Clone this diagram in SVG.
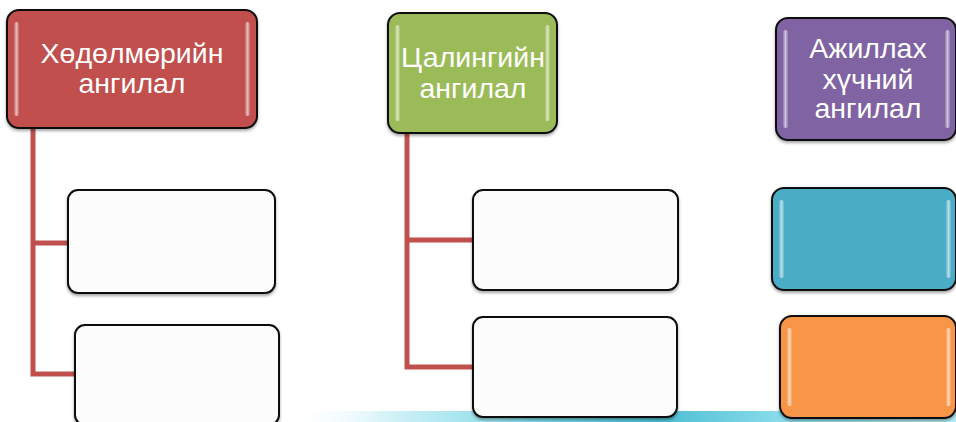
<svg xmlns="http://www.w3.org/2000/svg" width="956" height="422" viewBox="0 0 956 422">
<defs>
<linearGradient id="band" x1="0" y1="0" x2="1" y2="0">
<stop offset="0" stop-color="#ffffff" stop-opacity="0"/>
<stop offset="0.15" stop-color="#d2f2f7"/>
<stop offset="0.4" stop-color="#6fd4e3"/>
<stop offset="0.55" stop-color="#4cbed3"/>
<stop offset="0.75" stop-color="#8edeec"/>
<stop offset="1" stop-color="#b3e9f2"/>
</linearGradient>
<linearGradient id="hl" x1="0" y1="0" x2="1" y2="0">
<stop offset="0" stop-color="#ffffff" stop-opacity="0.15"/>
<stop offset="0.5" stop-color="#ffffff" stop-opacity="0.6"/>
<stop offset="1" stop-color="#ffffff" stop-opacity="0.15"/>
</linearGradient>
<filter id="sh" x="-10%" y="-10%" width="120%" height="130%">
<feDropShadow dx="0" dy="2" stdDeviation="1.5" flood-color="#000" flood-opacity="0.35"/>
</filter>
</defs>
<style>
.box{stroke:#111;stroke-width:2;filter:url(#sh)}
.red{fill:#c0504d}
.green{fill:#9bbb59}
.purple{fill:#8064a2}
.blue{fill:#4bacc6}
.orange{fill:#f79646}
.white{fill:#fcfcfc}
.gl{fill:url(#hl)}
.t{font-family:"Liberation Sans",Arial,sans-serif;font-size:28.5px;fill:#ffffff;text-anchor:middle}
.conn{stroke:#c0504d;stroke-width:5;fill:none}
</style>
<rect x="290" y="411" width="666" height="11" fill="url(#band)"/>
<g id="connectors">
<path class="conn" d="M33 128 V374 H76 M33 243 H69"/>
<path class="conn" d="M407 133 V367 H474 M407 240 H474"/>
</g>
<g id="n1">
<rect class="box red" x="7" y="10" width="250" height="118" rx="12"/>
<rect class="gl" x="14" y="22" width="5" height="94" rx="2.5"/>
<rect class="gl" x="245" y="22" width="5" height="94" rx="2.5"/>
<text class="t" x="132" y="63">Хөдөлмөрийн</text>
<text class="t" x="132" y="93">ангилал</text>
</g>
<g id="n1a"><rect class="box white" x="68" y="190" width="207" height="103" rx="10"/></g>
<g id="n1b"><rect class="box white" x="75" y="325" width="204" height="100" rx="10"/></g>
<g id="n2">
<rect class="box green" x="388" y="13" width="169" height="120" rx="12"/>
<rect class="gl" x="395" y="25" width="5" height="96" rx="2.5"/>
<rect class="gl" x="545" y="25" width="5" height="96" rx="2.5"/>
<text class="t" x="473" y="67">Цалингийн</text>
<text class="t" x="473" y="98">ангилал</text>
</g>
<g id="n2a"><rect class="box white" x="473" y="190" width="205" height="100" rx="10"/></g>
<g id="n2b"><rect class="box white" x="473" y="317" width="204" height="100" rx="10"/></g>
<g id="n3">
<rect class="box purple" x="776" y="18" width="180" height="122" rx="12"/>
<rect class="gl" x="783" y="30" width="5" height="98" rx="2.5"/>
<rect class="gl" x="945" y="30" width="5" height="98" rx="2.5"/>
<text class="t" x="868" y="58">Ажиллах</text>
<text class="t" x="868" y="89">хүчний</text>
<text class="t" x="868" y="118">ангилал</text>
</g>
<g id="n3a">
<rect class="box blue" x="772" y="188" width="184" height="102" rx="12"/>
<rect class="gl" x="779" y="200" width="5" height="78" rx="2.5"/>
<rect class="gl" x="946" y="200" width="5" height="78" rx="2.5"/>
</g>
<g id="n3b">
<rect class="box orange" x="780" y="316" width="176" height="102" rx="12"/>
<rect class="gl" x="787" y="328" width="5" height="78" rx="2.5"/>
<rect class="gl" x="946" y="328" width="5" height="78" rx="2.5"/>
</g>
</svg>
